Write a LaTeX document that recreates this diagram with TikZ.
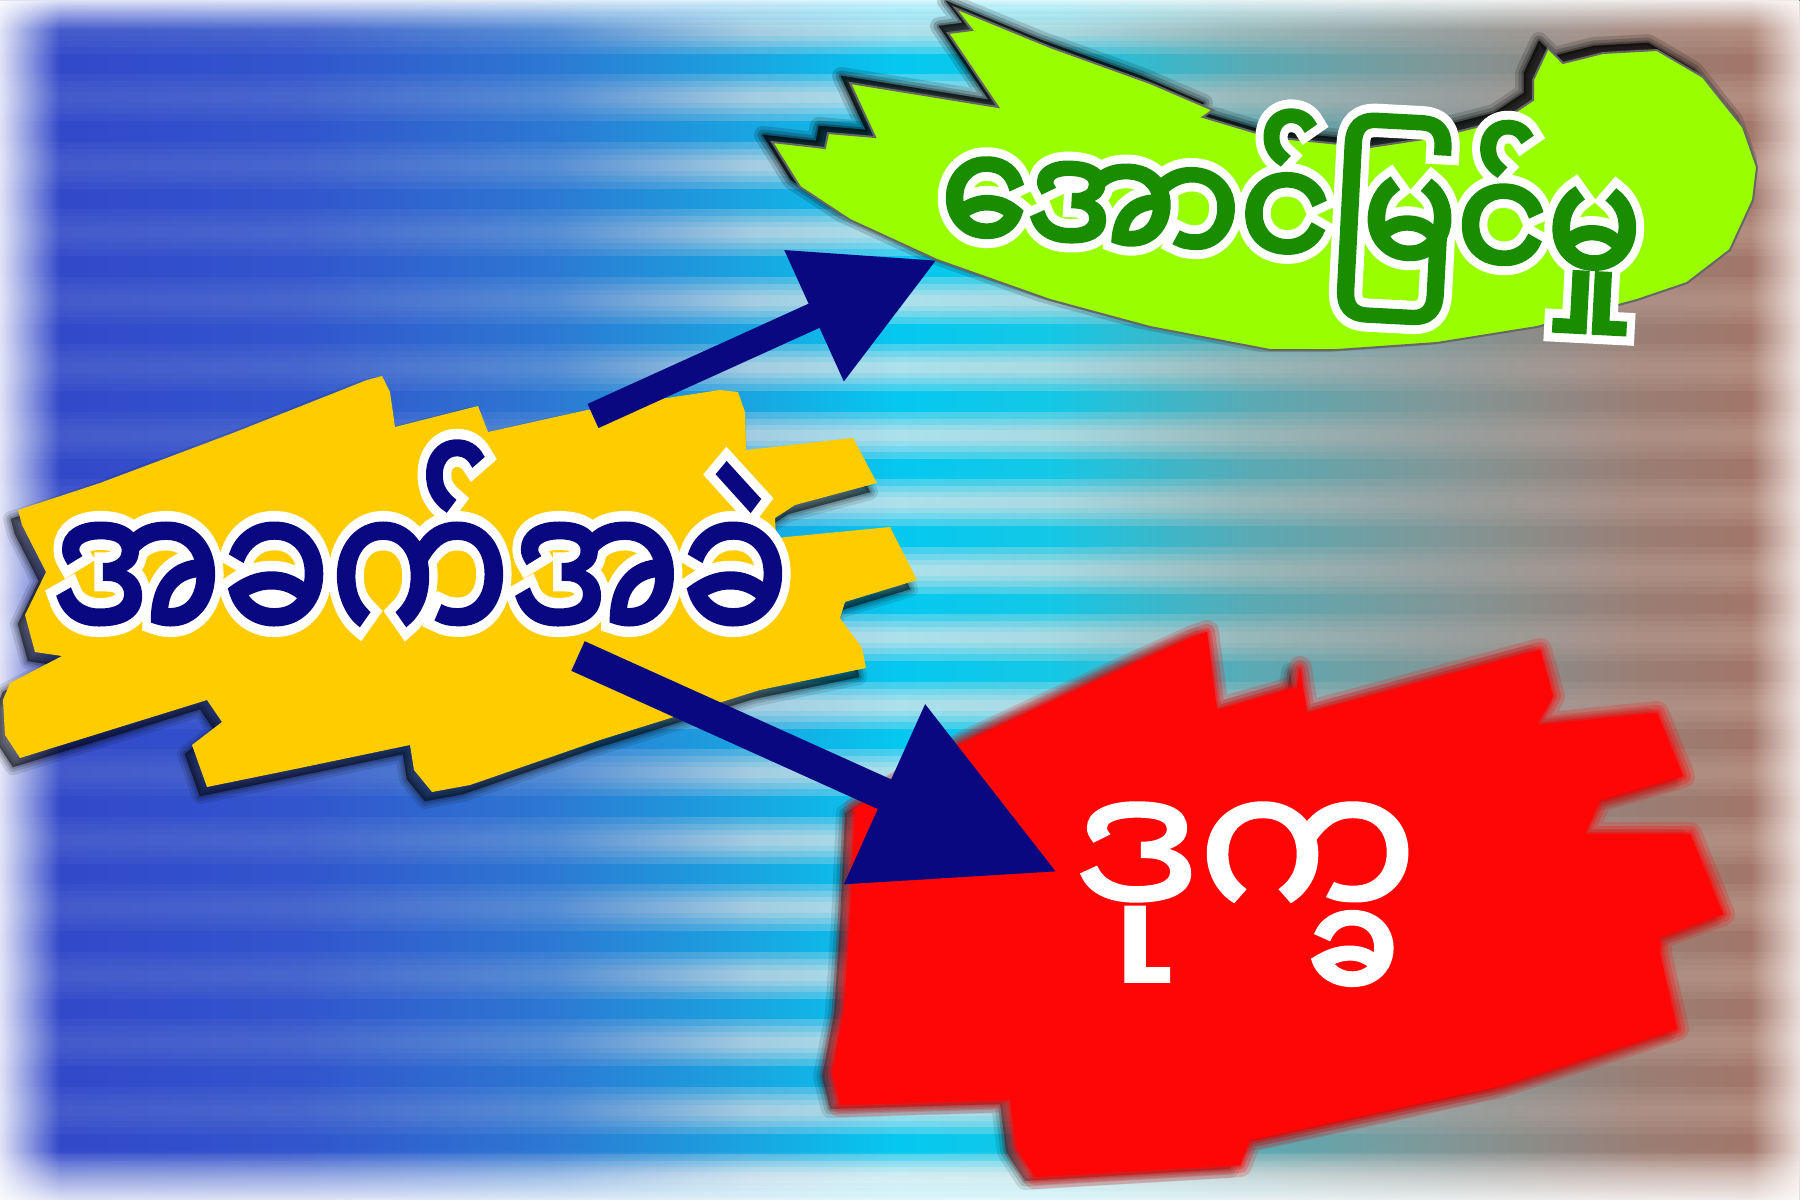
\documentclass[tikz,border=0pt]{standalone}
\usepackage{fontspec}
\usetikzlibrary{arrows.meta,fadings}
\newfontfamily\yfill[Script=Myanmar,FakeBold=2.5]{Noto Sans Myanmar UI}
\newfontfamily\yline[Script=Myanmar,FakeBold=13]{Noto Sans Myanmar UI}
\newfontfamily\gfill[Script=Myanmar,FakeBold=3.5]{Noto Sans Myanmar UI}
\newfontfamily\gline[Script=Myanmar,FakeBold=15]{Noto Sans Myanmar UI}
\newfontfamily\rfill[Script=Myanmar,FakeBold=2]{Noto Sans Myanmar UI}
\definecolor{navyblue}{RGB}{10,8,128}
\definecolor{leafgreen}{RGB}{26,140,0}
\definecolor{limeg}{RGB}{153,255,0}
\definecolor{goldy}{RGB}{255,204,0}
\definecolor{redb}{RGB}{255,6,6}
\pgfdeclarehorizontalshading{bgB}{100bp}{rgb(0bp)=(0.196,0.275,0.784); rgb(25bp)=(0.196,0.275,0.784); rgb(33.33bp)=(0.196,0.333,0.804); rgb(40.28bp)=(0.176,0.471,0.824); rgb(45.83bp)=(0.098,0.647,0.882); rgb(50bp)=(0.020,0.784,0.941); rgb(54.17bp)=(0.078,0.784,0.902); rgb(59.72bp)=(0.353,0.667,0.706); rgb(65.28bp)=(0.510,0.588,0.588); rgb(70.83bp)=(0.608,0.490,0.451); rgb(75bp)=(0.647,0.451,0.392); rgb(100bp)=(0.647,0.451,0.392)}
\pgfdeclarehorizontalshading{bgL}{100bp}{rgb(0bp)=(0.294,0.373,0.804); rgb(25bp)=(0.294,0.373,0.804); rgb(33.33bp)=(0.314,0.431,0.816); rgb(40.28bp)=(0.392,0.588,0.843); rgb(45.83bp)=(0.843,0.863,0.882); rgb(50bp)=(0.922,0.922,0.922); rgb(54.17bp)=(0.882,0.886,0.886); rgb(59.72bp)=(0.690,0.745,0.745); rgb(65.28bp)=(0.627,0.647,0.639); rgb(70.83bp)=(0.706,0.588,0.549); rgb(75bp)=(0.745,0.588,0.529); rgb(100bp)=(0.745,0.588,0.529)}
\tikzfading[name=fadeE, left color=transparent!0, right color=transparent!100]
\tikzfading[name=fadeW, left color=transparent!100, right color=transparent!0]
\tikzfading[name=fadeS, top color=transparent!0, bottom color=transparent!100]
\tikzfading[name=fadeN, top color=transparent!100, bottom color=transparent!0]
\begin{document}
\begin{tikzpicture}[x=0.4pt,y=-0.4pt,
  yellowblob/.style={insert path={(18,510) -- (100,483) -- (233,433) -- (367,380) -- (382,376) -- (390,392) -- (395,427) -- (462,410) -- (478,406) -- (488,432) -- (587,410) -- (720,390) -- (738,392) -- (745,412) -- (746,450) -- (853,438) -- (877,483) -- (795,505) -- (775,518) -- (776,538) -- (890,527) -- (917,580) -- (845,602) -- (840,618) -- (862,648) -- (866,668) -- (760,690) -- (600,740) -- (470,785) -- (432,792) -- (414,770) -- (410,745) -- (300,768) -- (207,787) -- (192,745) -- (222,722) -- (207,700) -- (20,758) -- (5,735) -- (3,700) -- (10,683) -- (62,656) -- (35,652) -- (25,615) -- (46,572) -- (22,525) -- cycle}},
  greenblob/.style={insert path={(772,142) -- (825,148) -- (828,133) -- (875,137) -- (850,83) -- (998,107) -- (948,33) -- (972,30) -- (955,8) -- (1050,47) -- (1150,83) -- (1213,110) -- (1203,117) -- (1270,137) -- (1370,147) -- (1437,137) -- (1503,120) -- (1533,100) -- (1533,80) -- (1548,48) -- (1563,63) -- (1603,53) -- (1657,50) -- (1703,77) -- (1743,127) -- (1757,167) -- (1753,200) -- (1730,250) -- (1687,283) -- (1637,300) -- (1537,327) -- (1437,343) -- (1337,350) -- (1270,350) -- (1150,327) -- (1050,300) -- (937,260) -- (850,220) -- (800,187) -- cycle}},
  redblob/.style={insert path={(855,809) -- (963,743) -- (1027,713) -- (1120,670) -- (1193,637) -- (1207,632) -- (1217,710) -- (1297,687) -- (1300,668) -- (1307,713) -- (1540,650) -- (1553,696) -- (1537,725) -- (1657,713) -- (1683,776) -- (1600,800) -- (1585,834) -- (1690,834) -- (1723,914) -- (1660,937) -- (1660,954) -- (1677,1029) -- (1500,1086) -- (1250,1140) -- (1240,1165) -- (1035,1177) -- (1016,1148) -- (1010,1100) -- (840,1105) -- (832,1073) -- (844,1010) -- (850,918) -- cycle}},
  outlinetext/.style={white, anchor=base, inner sep=0pt},
  filltext/.style={anchor=base, inner sep=0pt},
  arrowline/.style={navyblue, line join=miter}
]
\useasboundingbox (0,0) rectangle (1800,1200);
% background
\shade[shading=bgB] (0,0) rectangle (1800,1200);
\foreach \k in {0,...,17} {
  \pgfmathsetmacro\yy{30+67.5*\k}
  \foreach \h in {23,16,10,5}
    {\shade[shading=bgL, opacity=0.28] (0,\yy-\h) rectangle (1800,\yy+\h);}
}
\fill[white, path fading=fadeE, opacity=0.85] (0,0) rectangle (60,1200);
\fill[white, path fading=fadeS, opacity=0.85] (0,0) rectangle (1800,30);
\fill[white, path fading=fadeN, opacity=0.85] (0,1150) rectangle (1800,1200);
\fill[white, path fading=fadeW, opacity=0.75] (1750,0) rectangle (1800,1200);
% green blob
\begin{scope}[shift={(-9,-7)}]
  \foreach \lw/\op in {18/0.15,11/0.2,5/0.28,1/0.38}
    {\path[greenblob, fill=black, draw=black, line width=\lw*0.4pt, line join=round, opacity=\op];}
\end{scope}
\path[greenblob, fill=limeg, draw=black!60, line width=0.8pt];
\begin{scope}[shift={(1288,274)}, rotate=-3, xscale=0.9, transform shape]
  \node[outlinetext, font=\gline\fontsize{62}{70}\selectfont] (gtxtbg) at (0,0) {အောင်မြင်မှု};
  \node[filltext, leafgreen, font=\gfill\fontsize{62}{70}\selectfont] (gtxt) at (0,0) {အောင်မြင်မှု};
\end{scope}
% yellow blob
\begin{scope}[shift={(-7,9)}]
  \foreach \lw/\op in {16/0.10,10/0.13,5/0.16,1/0.22}
    {\path[yellowblob, fill=black, draw=black, line width=\lw*0.4pt, line join=round, opacity=\op];}
\end{scope}
\path[yellowblob, fill=goldy, rounded corners=3pt];
\begin{scope}[shift={(420,652)}, xscale=0.8, transform shape]
  \node[outlinetext, font=\yline\fontsize{80}{90}\selectfont] (ytxtbg) at (0,0) {အခက်အခဲ};
  \node[filltext, navyblue, font=\yfill\fontsize{80}{90}\selectfont] (ytxt) at (0,0) {အခက်အခဲ};
\end{scope}
% red blob
\begin{scope}[shift={(-10,4)}]
  \foreach \lw/\op in {18/0.10,11/0.13,5/0.16}
    {\path[redblob, fill=black, draw=black, line width=\lw*0.4pt, line join=round, opacity=\op];}
\end{scope}
\foreach \lw/\op in {24/0.2,16/0.25,9/0.3,4/0.4}
  {\path[redblob, fill=redb, draw=redb, line width=\lw*0.4pt, line join=round, opacity=\op];}
\path[redblob, fill=redb, rounded corners=3pt];
\node[filltext, white, font=\rfill\fontsize{78}{90}\selectfont] (rtxt) at (1245,928) {ဒုက္ခ};
% arrows
\coordinate (a1s) at (593,416);
\coordinate (a1e) at (937,260);
\coordinate (a2s) at (578,656);
\coordinate (a2e) at (1057,872);
\draw[arrowline, line width=10.6pt, -{Triangle[length=54pt,width=54.6pt]}] (a1s) -- (a1e);
\draw[arrowline, line width=13pt, -{Triangle[length=75.7pt,width=75.4pt]}] (a2s) -- (a2e);
\end{tikzpicture}
\end{document}
